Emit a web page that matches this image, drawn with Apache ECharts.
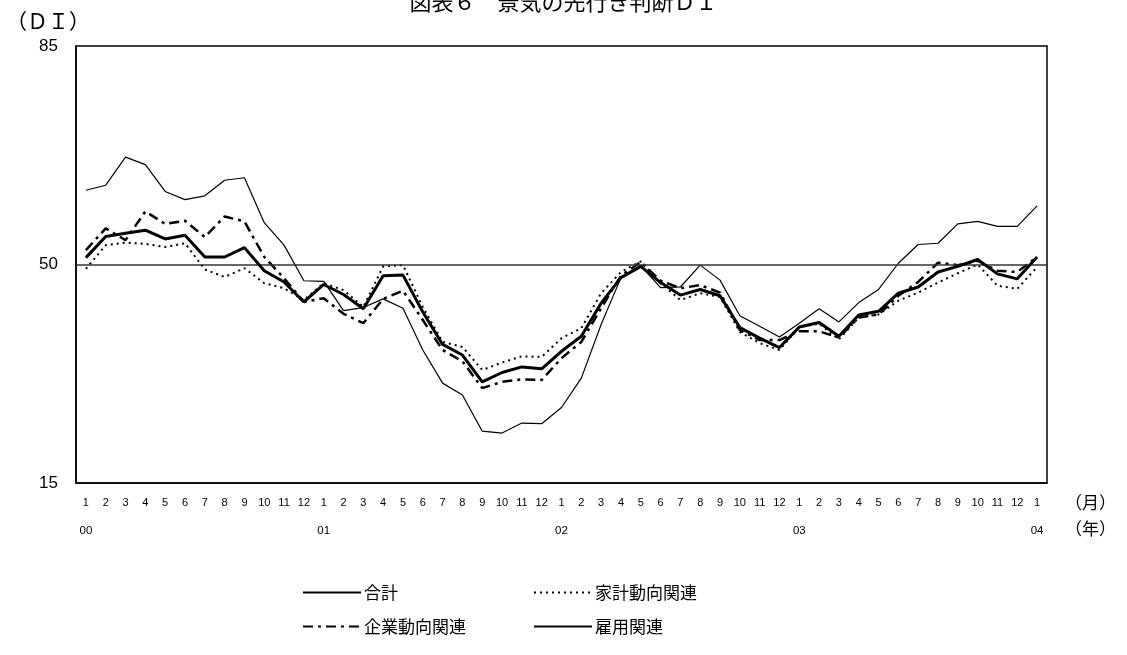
<!DOCTYPE html>
<html>
<head>
<meta charset="utf-8">
<script src="https://cdn.jsdelivr.net/npm/echarts@6/dist/echarts.min.js"></script>
<style>
html,body{margin:0;padding:0;background:#fff;}
#chart{width:1127px;height:655px;}
</style>
</head>
<body>
<div id="chart"></div>
<script>
const monthLabels = ['1','2','3','4','5','6','7','8','9','10','11','12',
  '1','2','3','4','5','6','7','8','9','10','11','12',
  '1','2','3','4','5','6','7','8','9','10','11','12',
  '1','2','3','4','5','6','7','8','9','10','11','12',
  '1'];
const yearLabels = ['00','','','','','','','','','','','',
  '01','','','','','','','','','','','',
  '02','','','','','','','','','','','',
  '03','','','','','','','','','','','',
  '04'];
const yTickLabels = [15, 50, 85];

const total = [51.1,54.5,55.0,55.5,54.1,54.7,51.2,51.2,52.7,49.0,47.2,44.0,
  46.8,45.2,42.9,48.2,48.3,42.4,37.2,35.5,31.2,32.7,33.6,33.3,
  36.1,38.5,43.8,47.9,49.7,47.1,45.1,46.0,45.0,39.9,38.2,36.7,
  40.0,40.7,38.5,41.9,42.5,45.4,46.4,48.8,49.7,50.8,48.5,47.7,
  51.2];
const household = [49.3,53.1,53.5,53.3,52.8,53.4,49.2,48.0,49.4,47.0,46.2,44.3,
  47.0,45.9,43.2,49.7,49.9,43.2,37.6,36.8,33.1,34.3,35.3,35.2,
  38.2,39.8,45.4,48.8,50.5,47.0,44.3,45.4,44.8,39.2,37.4,36.3,
  40.0,40.5,38.0,41.5,42.0,44.2,45.5,47.1,48.6,50.0,46.6,46.1,
  49.6];
const corporate = [52.3,55.8,53.9,58.5,56.5,57.0,54.4,57.7,56.9,51.2,47.8,44.0,
  44.6,42.1,40.6,44.5,45.8,41.1,36.3,34.5,30.2,31.2,31.6,31.5,
  35.0,37.6,43.0,48.2,50.4,47.4,46.2,46.7,45.5,39.5,37.9,37.9,
  39.3,39.3,38.3,41.5,42.0,45.0,47.2,50.3,49.9,50.6,49.0,48.8,
  51.2];
const employment = [61.9,62.7,67.2,66.0,61.7,60.4,61.0,63.5,63.9,56.7,53.1,47.4,
  47.3,42.6,43.1,44.5,43.0,36.3,31.0,29.1,23.3,23.0,24.6,24.5,
  27.1,31.8,40.4,47.9,49.8,46.3,46.4,49.9,47.5,41.8,40.1,38.4,
  40.6,42.9,40.8,43.9,46.0,50.2,53.2,53.4,56.5,56.9,56.1,56.1,
  59.4];

const categories = monthLabels.map((m, i) => String(i));
const CJK = "'Noto Sans CJK JP', 'Noto Sans', sans-serif";
const NUM = "'Liberation Sans', Arial, sans-serif";

const chart = echarts.init(document.getElementById('chart'), null, {renderer: 'canvas'});

function legendItem(name, left, top) {
  return {
    data: [name], left: left, top: top, orient: 'horizontal',
    itemWidth: 58, itemHeight: 14, itemGap: 0, padding: 0,
    selectedMode: false,
    itemStyle: {opacity: 0},
    textStyle: {fontSize: 17, color: '#000', fontFamily: CJK, padding: [0,0,0,-2]}
  };
}

const option = {
  animation: false,
  backgroundColor: '#fff',
  textStyle: {fontFamily: CJK},
  grid: {left: 76, right: 80, top: 46, bottom: 172, show: true, borderColor: '#000', borderWidth: 1.5, backgroundColor: 'transparent'},
  legend: [
    legendItem('合計', 302, 584),
    legendItem('家計動向関連', 533, 584),
    legendItem('企業動向関連', 302, 618),
    legendItem('雇用関連', 533, 618)
  ],
  graphic: [
    {type: 'text', left: 'center', top: -9, style: {text: '図表６　景気の先行き判断ＤＩ', fontSize: 22, fill: '#000', fontFamily: CJK}},
    {type: 'text', left: 6, top: 11, style: {text: '（ＤＩ）', fontSize: 21, fill: '#000', fontFamily: CJK}},
    {type: 'text', left: 1065, top: 494, style: {text: '（月）', fontSize: 17, fill: '#000', fontFamily: CJK}},
    {type: 'text', left: 1065, top: 520, style: {text: '（年）', fontSize: 17, fill: '#000', fontFamily: CJK}}
  ],
  xAxis: [
    {
      type: 'category', data: categories, boundaryGap: true, position: 'bottom',
      axisLine: {show: true, lineStyle: {color: '#000', width: 1.5}},
      axisTick: {show: false},
      splitLine: {show: false},
      axisLabel: {interval: 0, margin: 14, fontSize: 11, color: '#000', fontFamily: NUM,
        formatter: (v, i) => monthLabels[i]}
    },
    {
      type: 'category', data: categories, boundaryGap: true, position: 'bottom', offset: 28,
      axisLine: {show: false}, axisTick: {show: false}, splitLine: {show: false},
      axisLabel: {interval: 0, margin: 14, fontSize: 11.5, color: '#000', fontFamily: NUM,
        formatter: (v, i) => yearLabels[i]}
    }
  ],
  yAxis: {
    type: 'value', min: 15, max: 85, interval: 5,
    axisLine: {show: true, lineStyle: {color: '#000', width: 1.5}},
    axisTick: {show: false},
    splitLine: {show: false},
    axisLabel: {fontSize: 17, color: '#000', margin: 18, fontFamily: NUM,
      formatter: v => yTickLabels.indexOf(v) >= 0 ? String(v) : ''}
  },
  series: [
    {name: '合計', type: 'line', data: total, symbol: 'none', z: 5,
      lineStyle: {color: '#000', width: 3}, itemStyle: {color: '#000'}},
    {name: '家計動向関連', type: 'line', data: household, symbol: 'none', z: 3,
      lineStyle: {color: '#000', width: 2, type: [2, 4]}, itemStyle: {color: '#000'}},
    {name: '企業動向関連', type: 'line', data: corporate, symbol: 'none', z: 4,
      lineStyle: {color: '#000', width: 2.5, type: [10, 5, 3, 5]}, itemStyle: {color: '#000'}},
    {name: '雇用関連', type: 'line', data: employment, symbol: 'none', z: 2,
      lineStyle: {color: '#000', width: 1.2}, itemStyle: {color: '#000'},
      markLine: {silent: true, symbol: ['none', 'none'], label: {show: false},
        lineStyle: {color: '#333', width: 1.5, type: 'solid'}, data: [{yAxis: 50}]}}
  ]
};
chart.setOption(option);
</script>
</body>
</html>
